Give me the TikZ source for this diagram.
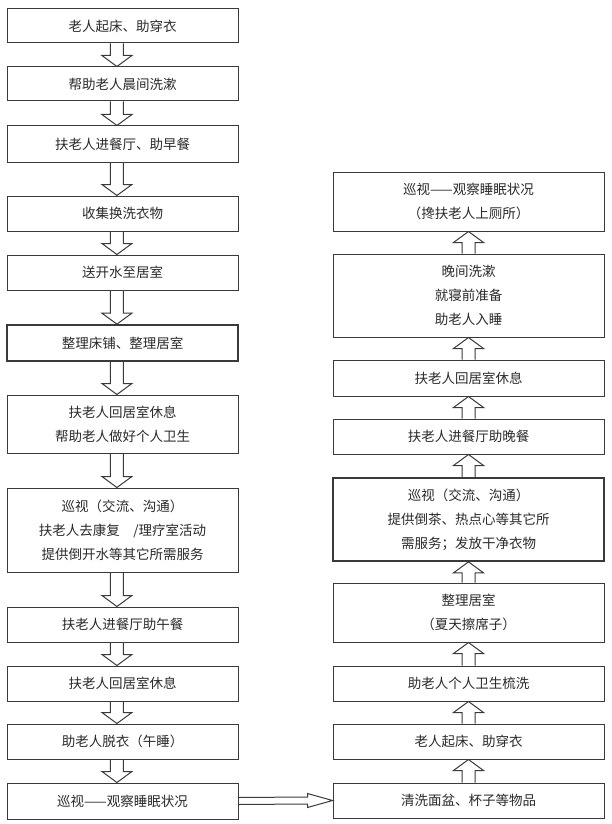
\documentclass[tikz,border=0pt]{standalone}
\usepackage{fontspec}
\setmainfont{Noto Sans CJK SC}
\usetikzlibrary{calc}
\definecolor{linegray}{HTML}{3A3A3A}
\definecolor{textgray}{HTML}{2A2A2A}
\tikzset{
  box/.style={draw=linegray, line width=1pt, rectangle, inner sep=0pt, align=center,
    text=textgray, font=\fontsize{13.5}{24}\selectfont},
  thickbox/.style={box, line width=1.7pt},
  hollowarrow/.style={draw=linegray, line width=1pt, line join=miter},
}
\newcommand\leftbox[5]{\node[#5, minimum width=231pt, minimum height={(#3-#2)*1pt}] (#1) at (122.5,{(#2+#3)/2}) {#4};}
\newcommand\rightbox[5]{\node[#5, minimum width=271pt, minimum height={(#3-#2)*1pt}] (#1) at (468.5,{(#2+#3)/2}) {#4};}
% down arrow from #1 (south) to #2 (north), at fraction #3 of width
\newcommand\myflowdown[3]{%
  \coordinate (s) at ($(#1.south west)!#3!(#1.south east)$);
  \coordinate (e) at ($(#2.north west)!#3!(#2.north east)$);
  \draw[hollowarrow] ($(s)+(-6.5,0)$) -- ($(e)+(-6.5,-11)$) -- ($(e)+(-15,-11)$) -- (e)
    -- ($(e)+(15,-11)$) -- ($(e)+(6.5,-11)$) -- ($(s)+(6.5,0)$);}
% up arrow from #1 (north) to #2 (south)
\newcommand\myflowup[3]{%
  \coordinate (s) at ($(#1.north west)!#3!(#1.north east)$);
  \coordinate (e) at ($(#2.south west)!#3!(#2.south east)$);
  \draw[hollowarrow] ($(s)+(-6.5,0)$) -- ($(e)+(-6.5,11)$) -- ($(e)+(-15,11)$) -- (e)
    -- ($(e)+(15,11)$) -- ($(e)+(6.5,11)$) -- ($(s)+(6.5,0)$);}
\begin{document}
\begin{tikzpicture}[x=1pt,y=-1pt]
\fill[white] (0,0) rectangle (611,824);
\useasboundingbox (0,0) rectangle (611,824);
% left column
\leftbox{L1}{9}{43}{老人起床、助穿衣}{box}
\leftbox{L2}{67}{101}{帮助老人晨间洗漱}{box}
\leftbox{L3}{126}{162}{扶老人进餐厅、助早餐}{box}
\leftbox{L4}{196}{231}{收集换洗衣物}{box}
\leftbox{L5}{255}{290}{送开水至居室}{box}
\leftbox{L6}{325}{361}{整理床铺、整理居室}{thickbox}
\leftbox{L7}{395}{453}{扶老人回居室休息\\帮助老人做好个人卫生}{box}
\leftbox{L8}{488}{572}{巡视（交流、沟通）\\扶老人去康复\hspace{1em}/理疗室活动\\提供倒开水等其它所需服务}{box}
\leftbox{L9}{607}{642}{扶老人进餐厅助午餐}{box}
\leftbox{L10}{666}{701}{扶老人回居室休息}{box}
\leftbox{L11}{724}{759}{助老人脱衣（午睡）}{box}
\leftbox{L12}{783}{819}{巡视——观察睡眠状况}{box}
% right column
\rightbox{R1}{172}{231}{巡视——观察睡眠状况\\（搀扶老人上厕所）}{box}
\rightbox{R2}{254}{337}{晚间洗漱\\就寝前准备\\助老人入睡}{box}
\rightbox{R3}{360}{396}{扶老人回居室休息}{box}
\rightbox{R4}{419}{454}{扶老人进餐厅助晚餐}{box}
\rightbox{R5}{478}{561}{巡视（交流、沟通）\\提供倒茶、热点心等其它所\\需服务；发放干净衣物}{thickbox}
\rightbox{R6}{583}{642}{整理居室\\（夏天擦席子）}{box}
\rightbox{R7}{666}{701}{助老人个人卫生梳洗}{box}
\rightbox{R8}{724}{759}{老人起床、助穿衣}{box}
\rightbox{R9}{783}{818}{清洗面盆、杯子等物品}{box}
% left arrows
\myflowdown{L1}{L2}{0.476}
\myflowdown{L2}{L3}{0.476}
\myflowdown{L3}{L4}{0.476}
\myflowdown{L4}{L5}{0.476}
\myflowdown{L5}{L6}{0.476}
\myflowdown{L6}{L7}{0.476}
\myflowdown{L7}{L8}{0.476}
\myflowdown{L8}{L9}{0.476}
\myflowdown{L9}{L10}{0.476}
\myflowdown{L10}{L11}{0.476}
\myflowdown{L11}{L12}{0.476}
% right arrows
\myflowup{R9}{R8}{0.5}
\myflowup{R8}{R7}{0.5}
\myflowup{R7}{R6}{0.5}
\myflowup{R6}{R5}{0.5}
\myflowup{R5}{R4}{0.5}
\myflowup{R4}{R3}{0.5}
\myflowup{R3}{R2}{0.5}
\myflowup{R2}{R1}{0.5}
% horizontal arrow
\coordinate (hs) at (L12.east);
\coordinate (he) at (R9.west);
\draw[hollowarrow] ($(hs)+(0,-3.5)$) -- ($(he)+(-25,-3.5)$) -- ($(he)+(-25,-7)$) -- (he)
  -- ($(he)+(-25,7)$) -- ($(he)+(-25,3.5)$) -- ($(hs)+(0,3.5)$);
\end{tikzpicture}
\end{document}
